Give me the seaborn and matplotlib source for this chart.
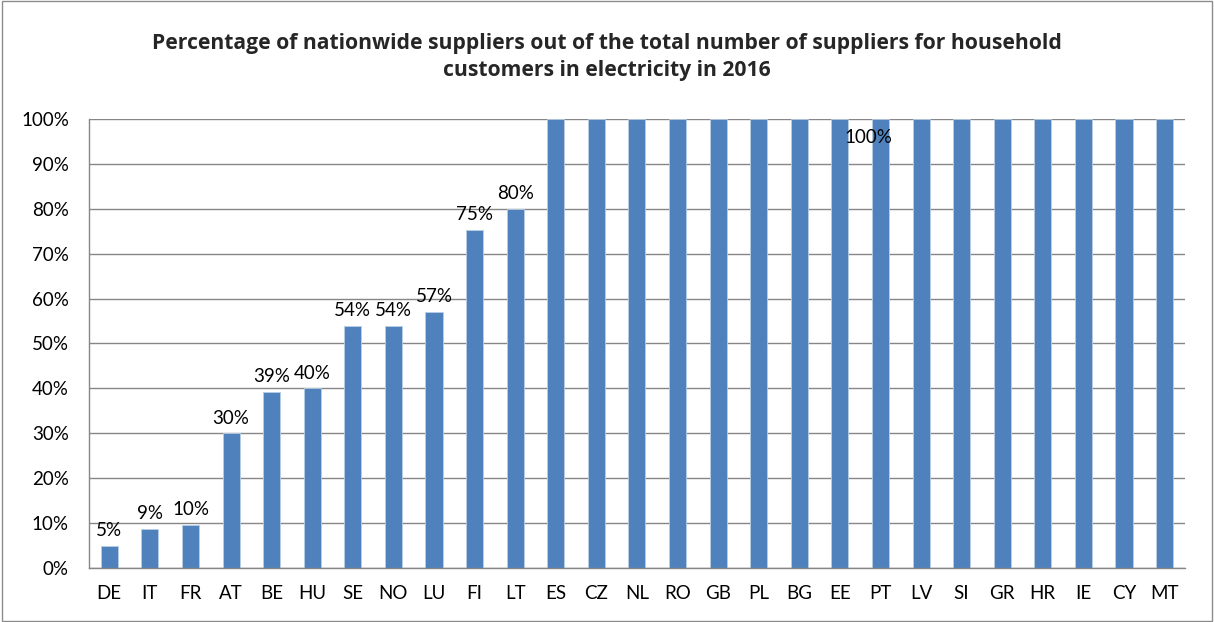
import matplotlib
matplotlib.use("Agg")
import matplotlib.pyplot as plt
import seaborn as sns
import pandas as pd
from matplotlib.patches import Rectangle
from matplotlib.ticker import FuncFormatter, MultipleLocator

countries = ["DE", "IT", "FR", "AT", "BE", "HU", "SE", "NO", "LU", "FI", "LT",
             "ES", "CZ", "NL", "RO", "GB", "PL", "BG", "EE", "PT", "LV", "SI",
             "GR", "HR", "IE", "CY", "MT"]
values = [4.9, 8.7, 9.6, 30.0, 39.3, 40.0, 53.9, 53.9, 57.1, 75.3, 80.0,
          100, 100, 100, 100, 100, 100, 100, 100, 100, 100, 100,
          100, 100, 100, 100, 100]
labels = ["5%", "9%", "10%", "30%", "39%", "40%", "54%", "54%", "57%", "75%", "80%"]
title = ("Percentage of nationwide suppliers out of the total number of suppliers for household\n"
         "customers in electricity in 2016")

sns.set_theme(style="white")
plt.rcParams["font.family"] = ["Lato", "DejaVu Sans"]

df = pd.DataFrame({"country": countries, "value": values})

fig = plt.figure(figsize=(12.14, 6.22), dpi=100)
ax = fig.add_axes([0.0733, 0.0868, 0.9027, 0.7219])

sns.barplot(data=df, x="country", y="value", color="#4F81BD", saturation=1,
            width=0.42, ax=ax, edgecolor="#B9CDE5", linewidth=0.6)

ax.set_ylim(0, 100)
ax.set_xlim(-0.5, len(countries) - 0.5)
ax.yaxis.set_major_locator(MultipleLocator(10))
ax.yaxis.set_major_formatter(FuncFormatter(lambda v, p: f"{int(round(v))}%"))
ax.grid(axis="y", color="#868686", linewidth=1.0)
ax.set_axisbelow(True)
for s in ["top", "right"]:
    ax.spines[s].set_visible(False)
for s in ["left", "bottom"]:
    ax.spines[s].set_color("#868686")
    ax.spines[s].set_linewidth(1.0)
ax.set_xlabel("")
ax.set_ylabel("")
ax.tick_params(axis="both", labelsize=13.5, colors="black", length=0)
ax.tick_params(axis="y", pad=14.5)
ax.tick_params(axis="x", pad=12)

for i, lab in enumerate(labels):
    ax.text(i, values[i] + 1.5, lab, ha="center", va="bottom", fontsize=13.5, color="black")
ax.text(18.7, 95.8, "100%", ha="center", va="center", fontsize=13.5, color="black")

fig.text(0.5, 0.908, title, ha="center", va="center", fontsize=15.2,
         fontweight="bold", linespacing=1.4, family=["Open Sans", "DejaVu Sans"])

fig.add_artist(Rectangle((0.002, 0.002), 0.996, 0.996, transform=fig.transFigure,
                         fill=False, edgecolor="#8C8C8C", linewidth=1.0))

fig.savefig("out.png", dpi=100)
